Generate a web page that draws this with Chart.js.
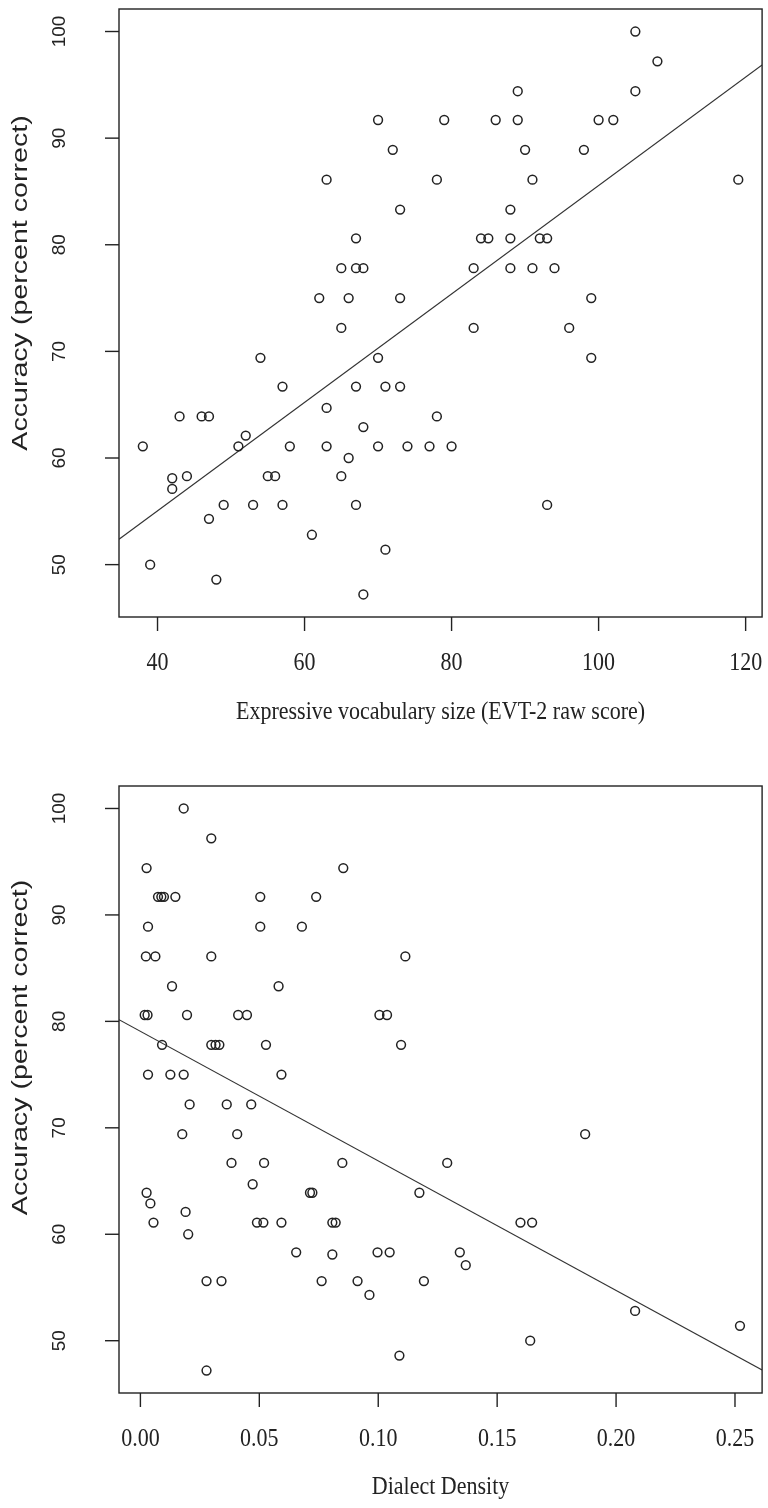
<!DOCTYPE html>
<html>
<head>
<meta charset="utf-8">
<script src="https://cdn.jsdelivr.net/npm/chart.js@4.4.1/dist/chart.umd.min.js"></script>
<style>
  body { margin: 0; background: #fff; }
  canvas { display: block; }
</style>
</head>
<body>
<canvas id="vocab" width="768" height="754"></canvas>
<canvas id="dialect" width="768" height="754"></canvas>
<script>
// expressive vocabulary (EVT-2 raw score) vs accuracy
const vocabX = [105,108,89,105,70,79,86,89,100,102,72,90,98,63,78,91,119,73,88,67,84,85,88,92,93,
  65,67,68,83,88,91,94,62,66,73,99,65,83,96,54,70,99,57,67,71,73,63,43,46,47,78,68,52,
  38,51,58,63,70,74,77,80,66,42,44,55,56,65,42,49,53,57,67,93,47,61,71,39,48,68];
const vocabAcc = [100,97.2,94.4,94.4,91.7,91.7,91.7,91.7,91.7,91.7,88.9,88.9,88.9,86.1,86.1,86.1,86.1,83.3,83.3,
  80.6,80.6,80.6,80.6,80.6,80.6,77.8,77.8,77.8,77.8,77.8,77.8,77.8,75,75,75,75,72.2,72.2,72.2,
  69.4,69.4,69.4,66.7,66.7,66.7,66.7,64.7,63.9,63.9,63.9,63.9,62.9,62.1,
  61.1,61.1,61.1,61.1,61.1,61.1,61.1,61.1,60,58.1,58.3,58.3,58.3,58.3,57.1,55.6,55.6,55.6,55.6,55.6,
  54.3,52.8,51.4,50,48.6,47.2];

// dialect density vs accuracy
const dialectX = [0.0182,0.0298,0.0026,0.0853,0.0074,0.0088,0.0099,0.0147,0.0504,0.0739,
  0.0032,0.0504,0.0679,0.0023,0.0063,0.0298,0.1114,0.0133,0.0581,
  0.0018,0.0030,0.0196,0.0411,0.0448,0.1005,0.1037,0.0091,0.0298,0.0316,0.0332,0.0528,0.1096,
  0.0032,0.0126,0.0182,0.0593,0.0207,0.0363,0.0466,0.0176,0.0407,0.187,
  0.0383,0.052,0.0849,0.129,0.0472,0.0026,0.0713,0.0723,0.1173,0.0042,0.019,
  0.0055,0.049,0.0517,0.0593,0.0807,0.0821,0.1598,0.1647,0.0201,
  0.0655,0.0997,0.1048,0.1343,0.0807,0.1368,0.0278,0.0341,0.0762,0.0913,0.1192,
  0.0963,0.208,0.2521,0.1639,0.1089,0.0278];
const dialectAcc = [100,97.2,94.4,94.4,91.7,91.7,91.7,91.7,91.7,91.7,
  88.9,88.9,88.9,86.1,86.1,86.1,86.1,83.3,83.3,
  80.6,80.6,80.6,80.6,80.6,80.6,80.6,77.8,77.8,77.8,77.8,77.8,77.8,
  75,75,75,75,72.2,72.2,72.2,69.4,69.4,69.4,
  66.7,66.7,66.7,66.7,64.7,63.9,63.9,63.9,63.9,62.9,62.1,
  61.1,61.1,61.1,61.1,61.1,61.1,61.1,61.1,60,
  58.3,58.3,58.3,58.3,58.1,57.1,55.6,55.6,55.6,55.6,55.6,
  54.3,52.8,51.4,50,48.6,47.2];

const vocabTicks = [40, 60, 80, 100, 120];
const dialectTicks = [0, 0.05, 0.10, 0.15, 0.20, 0.25];
const accTicks = [50, 60, 70, 80, 90, 100];

// least squares line through the points
function fitLine(xs, ys) {
  const n = xs.length;
  const mx = xs.reduce((s, v) => s + v, 0) / n;
  const my = ys.reduce((s, v) => s + v, 0) / n;
  let sxy = 0, sxx = 0;
  for (let i = 0; i < n; i++) {
    sxy += (xs[i] - mx) * (ys[i] - my);
    sxx += (xs[i] - mx) * (xs[i] - mx);
  }
  const b = sxy / sxx;
  return { a: my - b * mx, b: b };
}

// text stretched along one direction, like the resized original
function stretchedText(ctx, text, x, y, rot, sx, sy) {
  ctx.save();
  ctx.translate(x, y);
  if (rot) ctx.rotate(rot);
  ctx.scale(sx, sy);
  ctx.fillText(text, 0, 0);
  ctx.restore();
}

const rAxes = {
  id: 'rAxes',
  afterDraw(chart, args, opts) {
    const ctx = chart.ctx, a = chart.chartArea;
    const sx = chart.scales.x, sy = chart.scales.y;
    ctx.save();
    ctx.strokeStyle = '#222';
    ctx.fillStyle = '#222';
    ctx.lineWidth = 1.4;
    ctx.strokeRect(a.left, a.top, a.right - a.left, a.bottom - a.top);

    ctx.textAlign = 'center';
    ctx.textBaseline = 'middle';
    ctx.font = '22px "Liberation Serif"';
    opts.xTicks.forEach(v => {
      const px = sx.getPixelForValue(v);
      ctx.beginPath();
      ctx.moveTo(px, a.bottom);
      ctx.lineTo(px, a.bottom + 14);
      ctx.stroke();
      stretchedText(ctx, opts.xFormat(v), px, a.bottom + opts.labelGap, 0, 1, 1.15);
    });
    stretchedText(ctx, opts.xTitle, (a.left + a.right) / 2, a.bottom + opts.titleGap, 0, 1, 1.15);

    ctx.font = '19px "Liberation Sans"';
    opts.yTicks.forEach(v => {
      const py = sy.getPixelForValue(v);
      ctx.beginPath();
      ctx.moveTo(a.left, py);
      ctx.lineTo(a.left - 14, py);
      ctx.stroke();
      stretchedText(ctx, String(v), a.left - 59, py, -Math.PI / 2, 1, 1);
    });
    ctx.font = '22px "Liberation Sans"';
    stretchedText(ctx, opts.yTitle, a.left - 98, (a.top + a.bottom) / 2 - opts.yTitleShift,
      -Math.PI / 2, 1.3, 1);
    ctx.restore();
  }
};

function makePlot(id, xs, ys, xMin, xMax, padding, axes) {
  const fit = fitLine(xs, ys);
  const points = xs.map((x, i) => ({ x: x, y: ys[i] }));
  return new Chart(document.getElementById(id), {
    type: 'scatter',
    data: {
      datasets: [{
        data: points,
        pointStyle: 'circle',
        pointRadius: 4.4,
        pointHoverRadius: 4.4,
        borderWidth: 1.5,
        borderColor: '#222',
        backgroundColor: 'rgba(0,0,0,0)'
      }, {
        type: 'line',
        data: [{ x: xMin, y: fit.a + fit.b * xMin }, { x: xMax, y: fit.a + fit.b * xMax }],
        borderColor: '#333',
        borderWidth: 1.2,
        pointRadius: 0,
        fill: false
      }]
    },
    options: {
      responsive: false,
      animation: false,
      events: [],
      layout: { padding: padding },
      plugins: {
        legend: { display: false },
        tooltip: { enabled: false },
        rAxes: axes
      },
      scales: {
        x: { type: 'linear', min: xMin, max: xMax, display: false },
        y: { type: 'linear', min: 45.088, max: 102.112, display: false }
      }
    },
    plugins: [rAxes]
  });
}

makePlot('vocab', vocabX, vocabAcc, 34.76, 122.24,
  { left: 119, right: 3, top: 9, bottom: 137 },
  { xTicks: vocabTicks, yTicks: accTicks, xFormat: v => String(v), labelGap: 46, titleGap: 95,
    yTitleShift: 30,
    xTitle: 'Expressive vocabulary size (EVT-2 raw score)', yTitle: 'Accuracy (percent correct)' });

makePlot('dialect', dialectX, dialectAcc, -0.009, 0.2614,
  { left: 119, right: 3, top: 32, bottom: 115 },
  { xTicks: dialectTicks, yTicks: accTicks, xFormat: v => v.toFixed(2), labelGap: 46, titleGap: 94,
    yTitleShift: 42,
    xTitle: 'Dialect Density', yTitle: 'Accuracy (percent correct)' });
</script>
</body>
</html>
